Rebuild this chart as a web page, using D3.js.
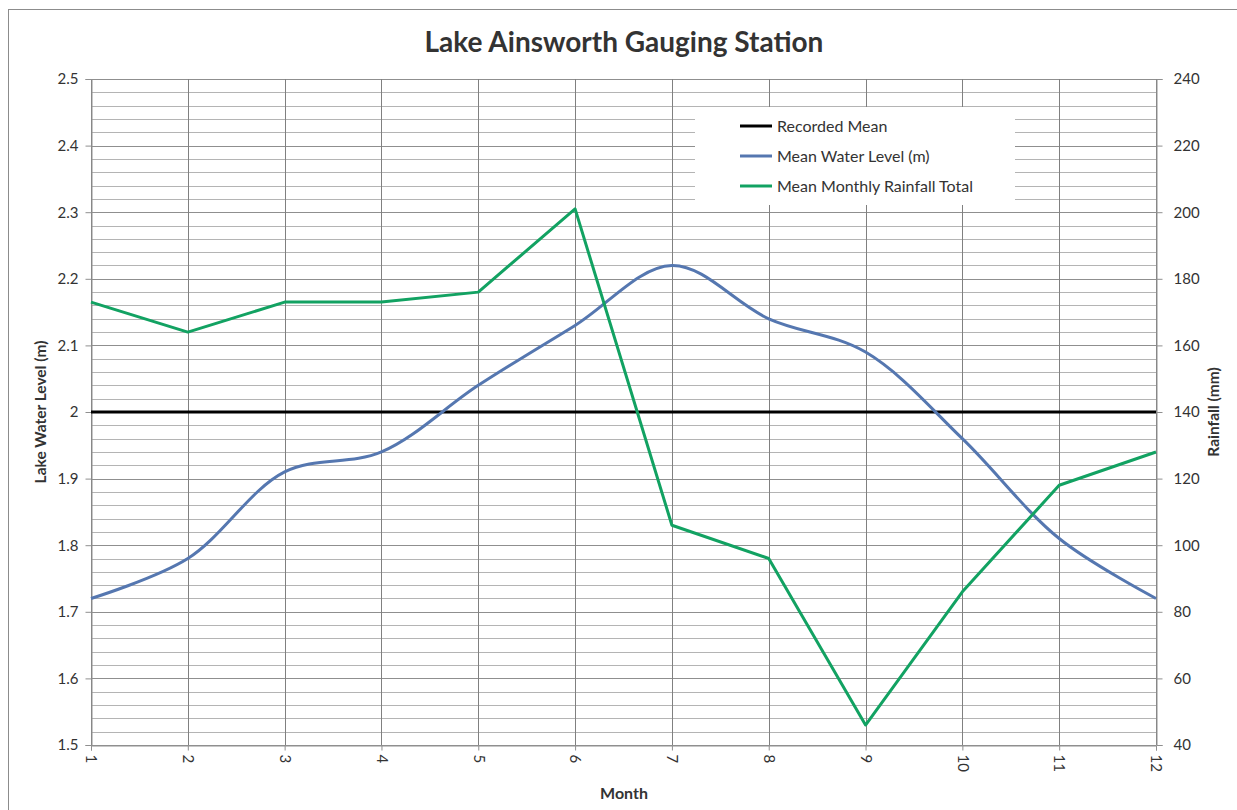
<!DOCTYPE html>
<html><head><meta charset="utf-8">
<script src="https://cdn.jsdelivr.net/npm/d3@7"></script>
<style>body{margin:0;background:#fff;} text{font-family:Lato, "Open Sans", sans-serif;fill:#333;}</style>
</head><body>
<svg id="c" width="1237" height="810"></svg>
<script>
const months = [1,2,3,4,5,6,7,8,9,10,11,12];
const waterLevel = [1.72,1.78,1.91,1.94,2.04,2.13,2.22,2.14,2.09,1.96,1.81,1.72];
const rainfall = [173,164,173,173,176,201,106,96,46,86,118,128];
const recordedMean = 2.0;
const leftTicks = [1.5,1.6,1.7,1.8,1.9,2,2.1,2.2,2.3,2.4,2.5];
const rightTicks = [40,60,80,100,120,140,160,180,200,220,240];
const seriesNames = ["Recorded Mean","Mean Water Level (m)","Mean Monthly Rainfall Total"];
const colors = ["#000000","#5577b0","#12a262"];

const svg = d3.select("#c");
const L=91,R=1156,T=79,B=745;
svg.append("rect").attr("x",8.5).attr("y",9.5).attr("width",1240).attr("height",820).attr("fill","#fff").attr("stroke","#8c8c8c");

const x = d3.scaleLinear().domain([1,12]).range([L,R]);
const yL = d3.scaleLinear().domain([1.5,2.5]).range([B,T]);
const yR = d3.scaleLinear().domain([40,240]).range([B,T]);

// minor horizontal gridlines
const minor = d3.range(0,51).map(i=>1.5+i*0.02);
svg.append("g").selectAll("line").data(minor).join("line")
  .attr("x1",L).attr("x2",R).attr("y1",d=>Math.round(yL(d))+0.5).attr("y2",d=>Math.round(yL(d))+0.5)
  .attr("stroke","#b4b4b4").attr("stroke-width",1);
// major horizontal
svg.append("g").selectAll("line").data(leftTicks).join("line")
  .attr("x1",L).attr("x2",R).attr("y1",d=>Math.round(yL(d))+0.5).attr("y2",d=>Math.round(yL(d))+0.5)
  .attr("stroke","#8f8f8f").attr("stroke-width",1);
// vertical gridlines
svg.append("g").selectAll("line").data(months).join("line")
  .attr("x1",d=>Math.round(x(d))+0.5).attr("x2",d=>Math.round(x(d))+0.5).attr("y1",T).attr("y2",B)
  .attr("stroke","#808080").attr("stroke-width",1);

// axes
const gL = svg.append("g").attr("transform",`translate(${L+0.5},0)`)
  .call(d3.axisLeft(yL).tickValues(leftTicks).tickFormat(d3.format("~g")).tickSize(6).tickPadding(7));
const gR = svg.append("g").attr("transform",`translate(${R+0.5},0)`)
  .call(d3.axisRight(yR).tickValues(rightTicks).tickSize(6).tickPadding(11));
const gX = svg.append("g").attr("transform",`translate(0,${B+0.5})`)
  .call(d3.axisBottom(x).tickValues(months).tickSize(5).tickFormat(d3.format("d")));
[gL,gR,gX].forEach(g=>{
  g.select(".domain").attr("stroke","#8f8f8f");
  g.selectAll(".tick line").attr("stroke","#8f8f8f");
  g.selectAll("text").attr("font-size",15).attr("fill","#333").style("font-family","Lato, sans-serif");
});
gX.selectAll("text").attr("transform","rotate(90)").attr("text-anchor","start").attr("x",9).attr("y",0).attr("dy","0.35em");

// recorded mean
svg.append("line").attr("x1",L).attr("x2",R).attr("y1",yL(recordedMean)).attr("y2",yL(recordedMean))
  .attr("stroke",colors[0]).attr("stroke-width",3);
// water level smooth
svg.append("path").datum(months.map((m,i)=>[m,waterLevel[i]]))
  .attr("d",d3.line().x(d=>x(d[0])).y(d=>yL(d[1])).curve(d3.curveCatmullRom.alpha(0.5)))
  .attr("fill","none").attr("stroke",colors[1]).attr("stroke-width",3);
// rainfall
svg.append("path").datum(months.map((m,i)=>[m,rainfall[i]]))
  .attr("d",d3.line().x(d=>x(d[0])).y(d=>yR(d[1])))
  .attr("fill","none").attr("stroke",colors[2]).attr("stroke-width",3).attr("stroke-linejoin","round");

// legend
const lg = svg.append("g");
lg.append("rect").attr("x",695).attr("y",107).attr("width",320).attr("height",98).attr("fill","#fff");
seriesNames.forEach((n,i)=>{
  const yy = 126+i*30;
  lg.append("line").attr("x1",740).attr("x2",772).attr("y1",yy).attr("y2",yy).attr("stroke",colors[i]).attr("stroke-width",3);
  lg.append("text").attr("x",777).attr("y",yy).attr("dy","0.35em").attr("font-size",16).text(n);
});

// titles
svg.append("text").attr("x",624).attr("y",42).attr("dy","0.35em").attr("text-anchor","middle")
  .attr("font-size",28).attr("font-weight","bold").attr("fill","#222").text("Lake Ainsworth Gauging Station");
svg.append("text").attr("transform","translate(41,412) rotate(-90)").attr("dy","0.35em").attr("text-anchor","middle")
  .attr("font-size",15.5).attr("font-weight","bold").attr("fill","#222").text("Lake Water Level (m)");
svg.append("text").attr("transform","translate(1214,412) rotate(-90)").attr("dy","0.35em").attr("text-anchor","middle")
  .attr("font-size",15.5).attr("font-weight","bold").attr("fill","#222").text("Rainfall (mm)");
svg.append("text").attr("x",624).attr("y",793).attr("dy","0.35em").attr("text-anchor","middle")
  .attr("font-size",16).attr("font-weight","bold").attr("fill","#222").text("Month");
</script>
</body></html>
